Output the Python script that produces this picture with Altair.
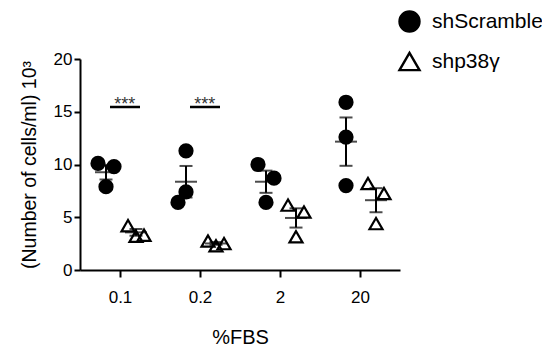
import json
import altair as alt
import pandas as pd

# ---- data ----
groups = ["0.1", "0.2", "2", "20"]
series = ["shScramble", "shp38γ"]
scramble_vals = [[10.1, 9.8, 7.9], [11.3, 7.4, 6.4], [10.0, 8.7, 6.4], [15.9, 12.6, 8.0]]
p38_vals = [[4.2, 3.2, 3.3], [2.75, 2.3, 2.5], [6.15, 5.5, 3.15], [8.2, 7.25, 4.4]]
# horizontal scatter of each dot inside its column (column-width units)
scramble_jitter = [[-0.1, 0.1, 0.0], [0.0, 0.0, -0.1], [-0.1, 0.1, 0.0], [0.0, 0.0, 0.0]]
p38_jitter = [[-0.1, 0.0, 0.1], [-0.1, 0.0, 0.1], [-0.1, 0.1, 0.0], [-0.1, 0.1, 0.0]]
sig_groups = ["0.1", "0.2"]
sig_labels = ["***", "***"]
sig_level = 15.45

rows = []
for gi, g in enumerate(groups):
    for s, vals, jit in ((series[0], scramble_vals, scramble_jitter), (series[1], p38_vals, p38_jitter)):
        for v, j in zip(vals[gi], jit[gi]):
            rows.append({"group": g, "gi": gi + 1, "series": s, "value": v, "jitter": j})
df = pd.DataFrame(rows)
sig_df = pd.DataFrame({"group": sig_groups, "gi": [groups.index(g) + 1 for g in sig_groups],
                       "label": sig_labels, "level": [sig_level] * len(sig_groups)})

shift_expr = "(datum.series == '%s' ? -0.175 : 0.2)" % series[0]
FONT = "Liberation Sans"

xscale = alt.Scale(domain=[0.5, 4.5], nice=False, zero=False)
yscale = alt.Scale(domain=[0, 20], nice=False)
label_expr = "%s[datum.value - 1]" % json.dumps(groups)

base = alt.Chart(df)

points = base.transform_calculate(
    xp="datum.gi + " + shift_expr + " + datum.jitter"
).mark_point(size=170, strokeWidth=2.2, opacity=1).encode(
    x=alt.X("xp:Q", scale=xscale,
            axis=alt.Axis(values=[1, 2, 3, 4], labelExpr=label_expr, title="%FBS",
                          grid=False, tickSize=7, tickWidth=2, domainWidth=2,
                          domainColor="black", tickColor="black",
                          labelFontSize=17, titleFontSize=20, labelPadding=12,
                          titlePadding=22, labelColor="black", titleColor="black",
                          titleFontWeight="normal", labelFont=FONT, titleFont=FONT)),
    y=alt.Y("value:Q", scale=yscale,
            axis=alt.Axis(values=[0, 5, 10, 15, 20], title="(Number of cells/ml) 10³",
                          grid=False, tickSize=6, tickWidth=2, domainWidth=2,
                          domainColor="black", tickColor="black",
                          labelFontSize=17, titleFontSize=19.5, labelPadding=2,
                          titlePadding=14, labelColor="black", titleColor="black",
                          titleFontWeight="normal", labelFont=FONT, titleFont=FONT)),
    shape=alt.Shape("series:N", scale=alt.Scale(domain=series, range=["circle", "triangle-up"]),
                    legend=alt.Legend(title=None, orient="none", legendX=318, legendY=-49,
                                      labelFontSize=21, labelFont=FONT, labelColor="black",
                                      symbolSize=400, symbolStrokeWidth=2.4, labelLimit=300,
                                      rowPadding=11, labelOffset=11)),
    fill=alt.Fill("series:N", scale=alt.Scale(domain=series, range=["black", "transparent"])),
    stroke=alt.Stroke("series:N", scale=alt.Scale(domain=series, range=["black", "black"])),
)

agg = base.transform_aggregate(
    mean="mean(value)", se="stderr(value)", groupby=["gi", "series"]
).transform_calculate(
    xc="datum.gi + " + shift_expr, lo="datum.mean - datum.se", hi="datum.mean + datum.se"
)

err_rule = agg.mark_rule(color="black", strokeWidth=2).encode(
    x=alt.X("xc:Q", scale=xscale), y=alt.Y("lo:Q", scale=yscale), y2="hi:Q")
mean_tick = agg.mark_tick(color="black", thickness=2, size=22, orient="horizontal").encode(
    x=alt.X("xc:Q", scale=xscale), y=alt.Y("mean:Q", scale=yscale))
lo_tick = agg.mark_tick(color="black", thickness=2, size=13, orient="horizontal").encode(
    x=alt.X("xc:Q", scale=xscale), y=alt.Y("lo:Q", scale=yscale))
hi_tick = agg.mark_tick(color="black", thickness=2, size=13, orient="horizontal").encode(
    x=alt.X("xc:Q", scale=xscale), y=alt.Y("hi:Q", scale=yscale))

sig = alt.Chart(sig_df).transform_calculate(
    x1="datum.gi - 0.125", x2="datum.gi + 0.25", xt="datum.gi + 0.06")
sig_rule = sig.mark_rule(color="black", strokeWidth=2.5).encode(
    x=alt.X("x1:Q", scale=xscale), x2="x2:Q", y=alt.Y("level:Q", scale=yscale))
sig_text = sig.mark_text(font=FONT, fontSize=18, color="#333333", baseline="alphabetic",
                         dy=3).encode(
    x=alt.X("xt:Q", scale=xscale), y=alt.Y("level:Q", scale=yscale), text="label:N")

chart = alt.layer(err_rule, mean_tick, lo_tick, hi_tick, points, sig_rule, sig_text).properties(
    width=320, height=211,
    autosize=alt.AutoSizeParams(type="none"),
    padding={"left": 72, "top": 51, "right": 142, "bottom": 82},
    background="white",
).configure_view(stroke=None)

chart.save("out.html", embed_options={"renderer": "svg", "actions": False})
